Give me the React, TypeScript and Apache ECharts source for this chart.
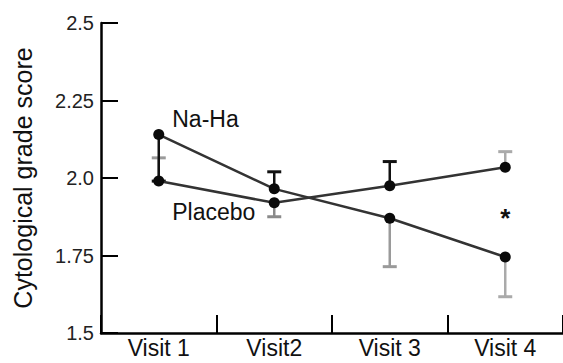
import React, { useEffect, useRef } from 'react';
import * as echarts from 'echarts';

const visits = ['Visit 1', 'Visit2', 'Visit 3', 'Visit 4'];
const naHaScores = [2.14, 1.965, 1.87, 1.745];
const placeboScores = [1.99, 1.92, 1.975, 2.035];
const naHaErrorEnds = [1.99, 2.02, 1.714, 1.617];
const placeboErrorEnds = [2.065, 1.875, 2.053, 2.085];
const yTickLabels = ['1.5', '1.75', '2.0', '2.25', '2.5'];
const significanceVisits = [3];
const significanceValues = [1.89];
const seriesNames = ['Na-Ha', 'Placebo'];

const naHaErrorTone = ['#111', '#111', '#9a9a9a', '#aaaaaa'];
const placeboErrorTone = ['#9a9a9a', '#8a8a8a', '#111', '#aaaaaa'];

const FONT = '"Liberation Sans", Arial, sans-serif';

function errorSeries(means: number[], ends: number[], tones: string[], z: number) {
  return {
    type: 'custom',
    z,
    silent: true,
    data: means.map((m, i) => [i, m, ends[i]]),
    renderItem: (params: any, api: any) => {
      const x = api.value(0);
      const p0 = api.coord([x, api.value(1)]);
      const p1 = api.coord([x, api.value(2)]);
      const color = tones[params.dataIndex];
      const half = 7;
      return {
        type: 'group',
        children: [
          { type: 'line', shape: { x1: p0[0], y1: p0[1], x2: p1[0], y2: p1[1] }, style: { stroke: color, lineWidth: 2.5 } },
          { type: 'line', shape: { x1: p1[0] - half, y1: p1[1], x2: p1[0] + half, y2: p1[1] }, style: { stroke: color, lineWidth: 3 } },
        ],
      };
    },
  };
}

function lineSeries(name: string, values: number[], labelOffset: number[]) {
  return {
    type: 'line',
    name,
    z: 3,
    symbol: 'circle',
    symbolSize: 11,
    itemStyle: { color: '#0a0a0a' },
    lineStyle: { color: '#333', width: 2.5 },
    data: values.map((v, i) =>
      i === 0
        ? {
            value: v,
            label: {
              show: true,
              position: 'right',
              offset: labelOffset,
              formatter: name,
              fontFamily: FONT,
              fontSize: 23,
              color: '#111',
            },
          }
        : v
    ),
  };
}

export default function App() {
  const ref = useRef<HTMLDivElement>(null);
  useEffect(() => {
    if (!ref.current) return;
    const chart = echarts.init(ref.current, undefined, { renderer: 'svg' });
    chart.setOption({
      animation: false,
      backgroundColor: '#fff',
      grid: { left: 101, right: -4, top: 23, bottom: 30, containLabel: false },
      xAxis: {
        type: 'category',
        data: visits,
        boundaryGap: true,
        axisLine: { lineStyle: { color: '#000', width: 2.5 } },
        axisTick: { show: true, inside: true, length: 18, lineStyle: { color: '#000', width: 2 } },
        axisLabel: { fontFamily: FONT, fontSize: 23, color: '#111', margin: 3 },
        splitLine: { show: false },
      },
      yAxis: {
        type: 'value',
        min: 1.5,
        max: 2.5,
        interval: 0.25,
        name: 'Cytological grade score',
        nameLocation: 'middle',
        nameRotate: 90,
        nameGap: 66,
        nameTextStyle: { fontFamily: FONT, fontSize: 25, color: '#111' },
        axisLine: { show: true, lineStyle: { color: '#000', width: 2.5 } },
        axisTick: { show: true, inside: true, length: 17, lineStyle: { color: '#000', width: 2 } },
        axisLabel: {
          fontFamily: FONT,
          fontSize: 20,
          color: '#222',
          margin: 7,
          formatter: (v: number) => yTickLabels[Math.round((v - 1.5) / 0.25)] ?? '',
        },
        splitLine: { show: false },
      },
      series: [
        errorSeries(placeboScores, placeboErrorEnds, placeboErrorTone, 1),
        errorSeries(naHaScores, naHaErrorEnds, naHaErrorTone, 2),
        lineSeries(seriesNames[0], naHaScores, [3, -16]),
        lineSeries(seriesNames[1], placeboScores, [3, 31]),
        {
          type: 'custom',
          z: 4,
          silent: true,
          data: significanceVisits.map((v, i) => [v, significanceValues[i]]),
          renderItem: (params: any, api: any) => {
            const p = api.coord([api.value(0), api.value(1)]);
            return {
              type: 'text',
              style: {
                text: '*',
                x: p[0],
                y: p[1] + 6,
                align: 'center',
                verticalAlign: 'middle',
                fontSize: 26,
                fontWeight: 'bold',
                fontFamily: FONT,
                fill: '#111',
              },
            };
          },
        },
      ],
    });
    return () => chart.dispose();
  }, []);
  return <div ref={ref} style={{ width: 563, height: 363, position: 'absolute', left: 0, top: 0 }} />;
}
